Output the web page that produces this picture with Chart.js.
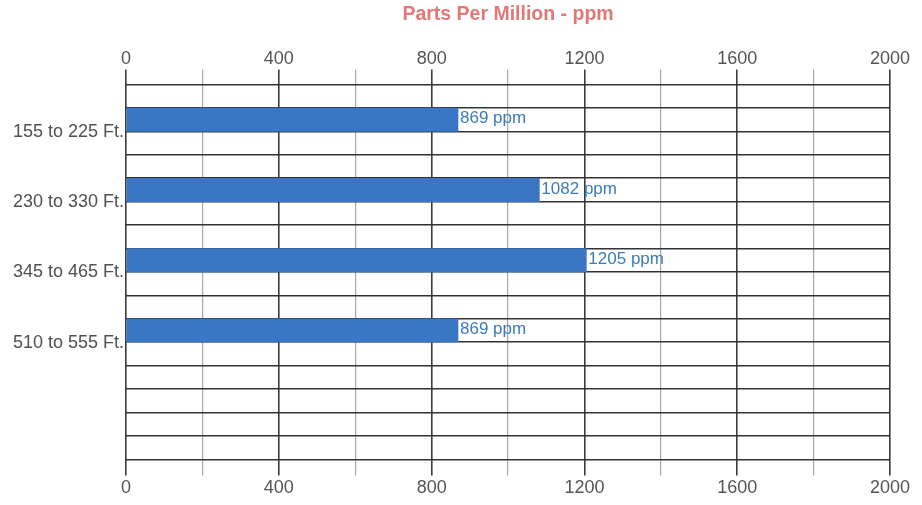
<!DOCTYPE html>
<html>
<head>
<meta charset="utf-8">
<script src="https://cdn.jsdelivr.net/npm/chart.js@4/dist/chart.umd.min.js"></script>
<style>
  html, body { margin: 0; padding: 0; background: #ffffff; }
  #wrap { width: 922px; height: 505px; }
</style>
</head>
<body>
<div id="wrap"><canvas id="chart" width="922" height="505"></canvas></div>
<script>
// Depth intervals and measured concentration (ppm)
const depths = ['155 to 225 Ft.', '230 to 330 Ft.', '345 to 465 Ft.', '510 to 555 Ft.'];
const ppm = [869, 1082, 1205, 869];
const axisMin = 0;
const axisMax = 2000;
const majorStep = 400;
const minorStep = 200;
const chartTitle = 'Parts Per Million - ppm';

// The grid has 16 rows; each depth bar sits in every third row starting at row 1
const ROW_COUNT = 16;
const rowOf = i => 1 + 3 * i;
const rowLabels = Array.from({ length: ROW_COUNT }, () => '');
const rowValues = Array.from({ length: ROW_COUNT }, () => null);
depths.forEach((d, i) => { rowLabels[rowOf(i)] = d; rowValues[rowOf(i)] = ppm[i]; });

const FONT = '"Liberation Sans", Arial, Helvetica, sans-serif';

const gridColor = ctx => (ctx.tick && ctx.tick.value % majorStep === 0) ? '#3c3c3c' : '#a8a8a8';
const gridWidth = ctx => (ctx.tick && ctx.tick.value % majorStep === 0) ? 1.6 : 1.2;
const tickText = v => (v % majorStep === 0 ? String(v) : '');

// Title centred over the plot area rather than the whole canvas
const areaTitle = {
  id: 'areaTitle',
  afterDraw(chart) {
    const { ctx, chartArea } = chart;
    ctx.save();
    ctx.font = 'bold 19.5px ' + FONT;
    ctx.fillStyle = '#e27878';
    ctx.textAlign = 'center';
    ctx.textBaseline = 'middle';
    ctx.fillText(chartTitle, (chartArea.left + chartArea.right) / 2, 15);
    ctx.restore();
  }
};

// Writes "<value> ppm" just past the end of each bar
const valueLabels = {
  id: 'valueLabels',
  afterDatasetsDraw(chart) {
    const { ctx } = chart;
    const meta = chart.getDatasetMeta(0);
    ctx.save();
    ctx.font = '17px ' + FONT;
    ctx.fillStyle = '#3b7cb8';
    ctx.textAlign = 'left';
    ctx.textBaseline = 'middle';
    meta.data.forEach((bar, i) => {
      const v = rowValues[i];
      if (v === null) return;
      ctx.fillText(v + ' ppm', bar.x + 2, bar.y - 1);
    });
    ctx.restore();
  }
};

new Chart(document.getElementById('chart'), {
  type: 'bar',
  data: {
    labels: rowLabels,
    datasets: [{
      data: rowValues,
      backgroundColor: '#3a76c4',
      borderWidth: 0,
      barPercentage: 1,
      categoryPercentage: 1,
      xAxisID: 'x'
    }]
  },
  options: {
    indexAxis: 'y',
    responsive: false,
    animation: false,
    layout: { padding: { left: 11, right: 32, top: 48, bottom: 4 } },
    plugins: {
      legend: { display: false },
      tooltip: { enabled: false },
      title: { display: false }
    },
    scales: {
      x: {
        type: 'linear',
        position: 'bottom',
        min: axisMin,
        max: axisMax,
        border: { display: false },
        grid: { color: gridColor, lineWidth: gridWidth, tickLength: 16, drawOnChartArea: true },
        ticks: {
          stepSize: minorStep,
          autoSkip: false,
          maxRotation: 0,
          padding: 2,
          color: '#555555',
          font: { family: FONT, size: 18 },
          callback: tickText
        }
      },
      x2: {
        type: 'linear',
        position: 'top',
        min: axisMin,
        max: axisMax,
        border: { display: false },
        grid: { color: gridColor, lineWidth: gridWidth, tickLength: 15, drawOnChartArea: false },
        ticks: {
          stepSize: minorStep,
          autoSkip: false,
          maxRotation: 0,
          padding: 0,
          color: '#555555',
          font: { family: FONT, size: 18 },
          callback: tickText
        }
      },
      y: {
        type: 'category',
        offset: true,
        border: { display: false },
        grid: { offset: true, color: '#333333', lineWidth: 1.6, drawTicks: false },
        ticks: {
          autoSkip: false,
          padding: 2,
          labelOffset: 12,
          color: '#505050',
          font: { family: FONT, size: 18 }
        }
      }
    }
  },
  plugins: [valueLabels, areaTitle]
});
</script>
</body>
</html>
